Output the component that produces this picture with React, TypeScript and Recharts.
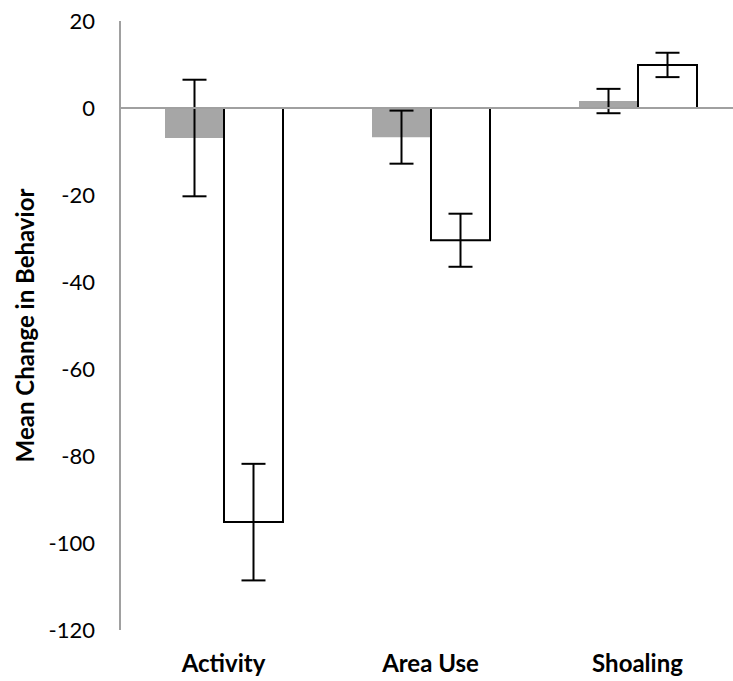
import { BarChart, Bar, XAxis, YAxis, ErrorBar, ReferenceLine } from "recharts";

const categories = ["Activity", "Area Use", "Shoaling"];
const grayMeans = [-6.9, -6.7, 1.6];
const grayErrors = [13.4, 6.1, 2.8];
const whiteMeans = [-95.2, -30.4, 9.9];
const whiteErrors = [13.4, 6.1, 2.8];
const yTicks = [-120, -100, -80, -60, -40, -20, 0, 20];

const data = categories.map((cat, i) => ({
  cat,
  gray: grayMeans[i],
  grayErr: grayErrors[i],
  white: whiteMeans[i],
  whiteErr: whiteErrors[i],
}));

const FONT = "Lato, 'Open Sans', sans-serif";

export default function App() {
  return (
    <div style={{ position: "absolute", left: 0, top: 0, fontFamily: FONT }}>
      <BarChart
        width={733}
        height={681}
        data={data}
        margin={{ top: 21, right: -8, bottom: 0, left: 0 }}
        barGap={0}
        barSize={59}
      >
        <XAxis
          dataKey="cat"
          height={51}
          axisLine={false}
          tickLine={false}
          tickSize={0}
          tickMargin={25}
          tick={{ fontSize: 24, fontWeight: 700, fill: "#000", fontFamily: FONT }}
        />
        <YAxis
          width={120}
          domain={[-120, 20]}
          ticks={yTicks}
          interval={0}
          tickLine={false}
          tickSize={0}
          tickMargin={25}
          axisLine={{ stroke: "#a0a0a0", strokeWidth: 2 }}
          tick={{ fontSize: 22, fill: "#000", fontFamily: FONT }}
          label={{
            value: "Mean Change in Behavior",
            angle: -90,
            position: "center",
            dx: -35,
            style: { fontSize: 24, fontWeight: 700, fill: "#000", fontFamily: FONT },
          }}
        />
        <Bar dataKey="gray" fill="#a6a6a6" isAnimationActive={false}>
          <ErrorBar dataKey="grayErr" width={12} stroke="#000" strokeWidth={2} isAnimationActive={false} />
        </Bar>
        <Bar dataKey="white" fill="#fff" stroke="#000" strokeWidth={2} isAnimationActive={false}>
          <ErrorBar dataKey="whiteErr" width={12} stroke="#000" strokeWidth={2} isAnimationActive={false} />
        </Bar>
        <ReferenceLine y={0} stroke="#a0a0a0" strokeWidth={2} />
      </BarChart>
    </div>
  );
}
